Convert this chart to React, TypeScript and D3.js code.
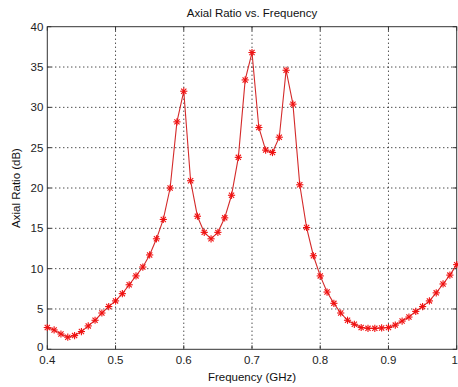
import React from "react";
import * as d3 from "d3";

const freqs: number[] = [
  0.4, 0.41, 0.42, 0.43, 0.44, 0.45, 0.46, 0.47, 0.48, 0.49,
  0.5, 0.51, 0.52, 0.53, 0.54, 0.55, 0.56, 0.57, 0.58, 0.59,
  0.6, 0.61, 0.62, 0.63, 0.64, 0.65, 0.66, 0.67, 0.68, 0.69,
  0.7, 0.71, 0.72, 0.73, 0.74, 0.75, 0.76, 0.77, 0.78, 0.79,
  0.8, 0.81, 0.82, 0.83, 0.84, 0.85, 0.86, 0.87, 0.88, 0.89,
  0.9, 0.91, 0.92, 0.93, 0.94, 0.95, 0.96, 0.97, 0.98, 0.99, 1.0,
];
const axialRatio: number[] = [
  2.7, 2.4, 1.9, 1.5, 1.7, 2.2, 2.9, 3.6, 4.5, 5.3,
  6.0, 6.9, 8.0, 9.1, 10.2, 11.7, 13.7, 16.1, 20.0, 28.2,
  32.0, 20.9, 16.5, 14.5, 13.7, 14.5, 16.3, 19.1, 23.8, 33.4,
  36.8, 27.5, 24.7, 24.4, 26.3, 34.6, 30.4, 20.4, 15.1, 11.6,
  9.1, 7.1, 5.7, 4.5, 3.6, 3.1, 2.7, 2.6, 2.6, 2.65,
  2.7, 3.0, 3.5, 4.0, 4.7, 5.3, 6.0, 7.0, 8.1, 9.2, 10.5,
];
const xTicks: number[] = [0.4, 0.5, 0.6, 0.7, 0.8, 0.9, 1.0];
const xTickLabels: string[] = ["0.4", "0.5", "0.6", "0.7", "0.8", "0.9", "1"];
const yTicks: number[] = [0, 5, 10, 15, 20, 25, 30, 35, 40];

const title = "Axial Ratio vs. Frequency";
const xLabel = "Frequency (GHz)";
const yLabel = "Axial Ratio (dB)";

export default function App() {
  const W = 458, H = 387;
  const left = 47.3, right = 456.7, top = 26.7, bottom = 349.3;
  const x = d3.scaleLinear().domain([0.4, 1.0]).range([left, right]);
  const y = d3.scaleLinear().domain([0, 40]).range([bottom, top]);
  const data = freqs.map((f, i) => ({ f, v: axialRatio[i] }));
  const line = d3.line<{ f: number; v: number }>().x(d => x(d.f)).y(d => y(d.v));
  const font = "Liberation Sans, Arial, sans-serif";
  const tickColor = "#222";
  const ms = 3.6;
  return (
    <svg width={W} height={H} style={{ position: "absolute", left: 0, top: 0, background: "#fff" }}>
      <rect x={0} y={0} width={W} height={H} fill="#fff" />
      {xTicks.slice(1, -1).map(t => (
        <line key={"gx" + t} x1={x(t)} x2={x(t)} y1={top} y2={bottom} stroke="#000" strokeWidth={1} strokeDasharray="1,3" />
      ))}
      {yTicks.slice(1, -1).map(t => (
        <line key={"gy" + t} x1={left} x2={right} y1={y(t)} y2={y(t)} stroke="#000" strokeWidth={1} strokeDasharray="1,3" />
      ))}
      {xTicks.map(t => (
        <g key={"tx" + t}>
          <line x1={x(t)} x2={x(t)} y1={bottom} y2={bottom - 4} stroke="#333" />
          <line x1={x(t)} x2={x(t)} y1={top} y2={top + 4} stroke="#333" />
        </g>
      ))}
      {yTicks.map(t => (
        <g key={"ty" + t}>
          <line x1={left} x2={left + 4} y1={y(t)} y2={y(t)} stroke="#333" />
          <line x1={right} x2={right - 4} y1={y(t)} y2={y(t)} stroke="#333" />
        </g>
      ))}
      <rect x={left} y={top} width={right - left} height={bottom - top} fill="none" stroke="#333" strokeWidth={1} />
      <path d={line(data) || ""} fill="none" stroke="#d42a2a" strokeWidth={1.1} />
      {data.map((d, i) => {
        const cx = x(d.f), cy = y(d.v);
        const k = ms * 0.72;
        return (
          <g key={"m" + i} stroke="#f01010" strokeWidth={1.1}>
            <line x1={cx - ms} x2={cx + ms} y1={cy} y2={cy} />
            <line x1={cx} x2={cx} y1={cy - ms} y2={cy + ms} />
            <line x1={cx - k} x2={cx + k} y1={cy - k} y2={cy + k} />
            <line x1={cx - k} x2={cx + k} y1={cy + k} y2={cy - k} />
          </g>
        );
      })}
      {xTicks.map((t, i) => (
        <text key={"lx" + t} x={x(t)} y={bottom + 15} textAnchor={i === xTicks.length - 1 ? "end" : "middle"} dx={i === xTicks.length - 1 ? 1.3 : 0} fontFamily={font} fontSize={11.5} fill={tickColor}>
          {xTickLabels[i]}
        </text>
      ))}
      {yTicks.map(t => (
        <text key={"ly" + t} x={left - 4} y={y(t) + (t === 0 ? 1.5 : 4)} textAnchor="end" fontFamily={font} fontSize={11.5} fill={tickColor}>
          {t}
        </text>
      ))}
      <text x={(left + right) / 2} y={17} textAnchor="middle" fontFamily={font} fontSize={11.5} fill="#111">{title}</text>
      <text x={(left + right) / 2} y={381} textAnchor="middle" fontFamily={font} fontSize={11.5} fill="#111">{xLabel}</text>
      <text transform={`translate(20,${(top + bottom) / 2}) rotate(-90)`} textAnchor="middle" fontFamily={font} fontSize={11.5} fill="#111">{yLabel}</text>
    </svg>
  );
}
